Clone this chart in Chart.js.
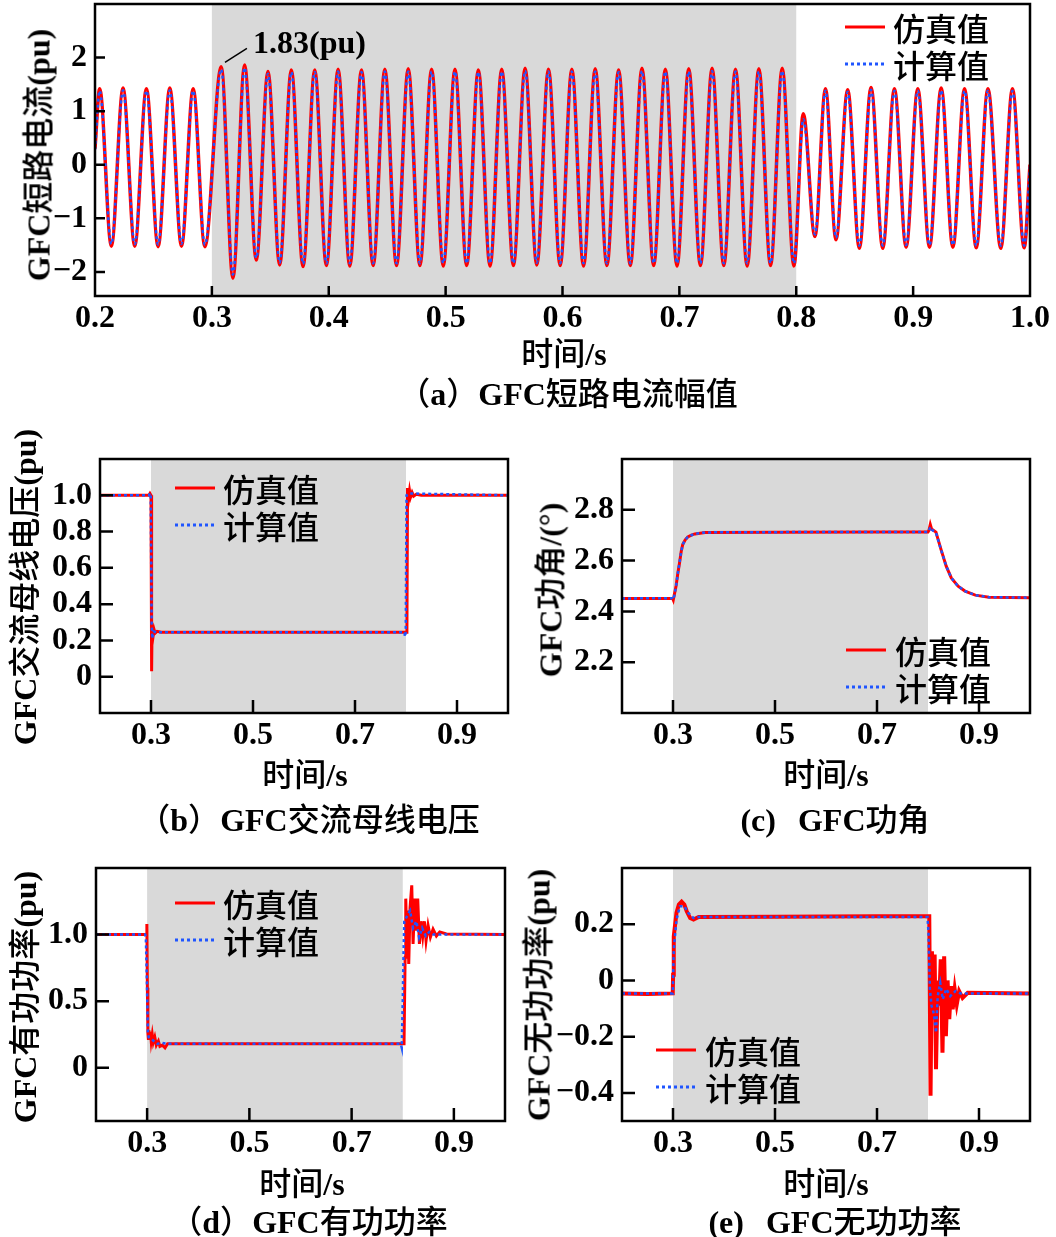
<!DOCTYPE html>
<html>
<head>
<meta charset="utf-8">
<script src="https://cdn.jsdelivr.net/npm/chart.js@4.4.0/dist/chart.umd.min.js"></script>
<style>
body { margin: 0; background: #fff; }
#page { position: relative; width: 1056px; height: 1237px; overflow: hidden; background: #fff;
        font-family: 'Liberation Serif', 'Noto Sans CJK SC', serif; color: #000; }
canvas { position: absolute; }
.t, .yt, .lg { position: absolute; font-size: 32px; line-height: 1; white-space: nowrap;
               font-family: 'Noto Sans CJK SC', sans-serif; font-weight: 500; }
.t  { transform: translate(-50%, -50%); }
.yt { transform: translate(-50%, -50%) rotate(-90deg); }
.lg { transform: translateY(-50%); }
.l  { font-family: 'Liberation Serif', serif; font-weight: 700; }
.sim  { position: absolute; width: 40px; height: 3px; background: #ff0000; transform: translateY(-50%); }
.calc { position: absolute; width: 40px; height: 3px; transform: translateY(-50%);
        background: repeating-linear-gradient(90deg, #1f55ff 0 3px, transparent 3px 6px); }
</style>
</head>
<body>
<div id="page">
  <canvas id="ca" width="1056" height="340" style="left:0;top:0"></canvas>
  <canvas id="cb" width="540" height="320" style="left:0;top:440px"></canvas>
  <canvas id="cc" width="516" height="320" style="left:540px;top:440px"></canvas>
  <canvas id="cd" width="540" height="320" style="left:0;top:850px"></canvas>
  <canvas id="ce" width="516" height="320" style="left:540px;top:850px"></canvas>

  <!-- (a) -->
  <div class="yt" style="left:37px;top:155px"><span class="l">GFC</span>短路电流<span class="l">(pu)</span></div>
  <div class="t" style="left:564px;top:352px">时间<span class="l">/s</span></div>
  <div class="t" style="left:568px;top:392px">（<span class="l">a</span>）<span class="l">GFC</span>短路电流幅值</div>
  <div class="sim" style="left:845px;top:27px"></div><div class="lg" style="left:893px;top:27px">仿真值</div>
  <div class="calc" style="left:845px;top:64px"></div><div class="lg" style="left:893px;top:64px">计算值</div>

  <!-- (b) -->
  <div class="yt" style="left:23px;top:587px"><span class="l">GFC</span>交流母线电压<span class="l">(pu)</span></div>
  <div class="t" style="left:305px;top:773px">时间<span class="l">/s</span></div>
  <div class="t" style="left:309px;top:818px">（<span class="l">b</span>）<span class="l">GFC</span>交流母线电压</div>
  <div class="sim" style="left:175px;top:488px"></div><div class="lg" style="left:223px;top:488px">仿真值</div>
  <div class="calc" style="left:175px;top:525px"></div><div class="lg" style="left:223px;top:525px">计算值</div>

  <!-- (c) -->
  <div class="yt" style="left:549px;top:590px"><span class="l">GFC</span>功角<span class="l">/(°)</span></div>
  <div class="t" style="left:826px;top:773px">时间<span class="l">/s</span></div>
  <div class="t" style="left:835px;top:818px"><span class="l">(c)</span><span style="display:inline-block;width:22px"></span><span class="l">GFC</span>功角</div>
  <div class="sim" style="left:846px;top:650px"></div><div class="lg" style="left:895px;top:650px">仿真值</div>
  <div class="calc" style="left:846px;top:687px"></div><div class="lg" style="left:895px;top:687px">计算值</div>

  <!-- (d) -->
  <div class="yt" style="left:23px;top:997px"><span class="l">GFC</span>有功功率<span class="l">(pu)</span></div>
  <div class="t" style="left:302px;top:1182px">时间<span class="l">/s</span></div>
  <div class="t" style="left:309px;top:1220px">（<span class="l">d</span>）<span class="l">GFC</span>有功功率</div>
  <div class="sim" style="left:175px;top:903px"></div><div class="lg" style="left:223px;top:903px">仿真值</div>
  <div class="calc" style="left:175px;top:940px"></div><div class="lg" style="left:223px;top:940px">计算值</div>

  <!-- (e) -->
  <div class="yt" style="left:537px;top:995px"><span class="l">GFC</span>无功功率<span class="l">(pu)</span></div>
  <div class="t" style="left:826px;top:1182px">时间<span class="l">/s</span></div>
  <div class="t" style="left:835px;top:1220px"><span class="l">(e)</span><span style="display:inline-block;width:22px"></span><span class="l">GFC</span>无功功率</div>
  <div class="sim" style="left:656px;top:1050px"></div><div class="lg" style="left:705px;top:1050px">仿真值</div>
  <div class="calc" style="left:656px;top:1087px"></div><div class="lg" style="left:705px;top:1087px">计算值</div>
</div>

<script>
// fault window (gray band)
const faultStart = 0.3;
const faultEnd = 0.8;

// ---- (a) short-circuit current: peaks / troughs
const aT = [
  0.200, 0.204, 0.214, 0.224, 0.234, 0.244, 0.254, 0.264, 0.274, 0.284, 0.294,
  0.308, 0.318, 0.328, 0.338, 0.348, 0.358, 0.368, 0.378, 0.388, 0.398,
  0.408, 0.418, 0.428, 0.438, 0.448, 0.458, 0.468, 0.478, 0.488, 0.498,
  0.508, 0.518, 0.528, 0.538, 0.548, 0.558, 0.568, 0.578, 0.588, 0.598,
  0.608, 0.618, 0.628, 0.638, 0.648, 0.658, 0.668, 0.678, 0.688, 0.698,
  0.708, 0.718, 0.728, 0.738, 0.748, 0.758, 0.768, 0.778, 0.788, 0.798,
  0.806, 0.816, 0.825, 0.834, 0.844, 0.854, 0.864, 0.874, 0.884, 0.894,
  0.904, 0.914, 0.924, 0.934, 0.944, 0.954, 0.964, 0.975, 0.985, 0.995, 1.000
];
const aSim = [
  0.30, 1.42, -1.52, 1.43, -1.52, 1.42, -1.53, 1.43, -1.52, 1.42, -1.53,
  1.83, -2.12, 1.86, -1.78, 1.74, -1.87, 1.77, -1.90, 1.77, -1.88,
  1.78, -1.89, 1.77, -1.88, 1.78, -1.88, 1.79, -1.88, 1.78, -1.89,
  1.78, -1.88, 1.77, -1.89, 1.78, -1.88, 1.80, -1.87, 1.78, -1.88,
  1.78, -1.89, 1.79, -1.88, 1.77, -1.88, 1.80, -1.88, 1.78, -1.89,
  1.79, -1.88, 1.80, -1.88, 1.78, -1.89, 1.79, -1.88, 1.80, -1.89,
  0.95, -1.34, 1.42, -1.40, 1.40, -1.56, 1.44, -1.56, 1.42, -1.54,
  1.42, -1.54, 1.43, -1.54, 1.42, -1.55, 1.42, -1.56, 1.42, -1.55, 0.00
];
const aCalc = [
  0.28, 1.38, -1.48, 1.39, -1.48, 1.38, -1.49, 1.39, -1.48, 1.38, -1.49,
  1.78, -2.05, 1.81, -1.74, 1.70, -1.83, 1.73, -1.85, 1.73, -1.84,
  1.74, -1.84, 1.73, -1.84, 1.74, -1.84, 1.74, -1.84, 1.74, -1.84,
  1.74, -1.84, 1.73, -1.84, 1.74, -1.84, 1.75, -1.83, 1.74, -1.84,
  1.74, -1.84, 1.74, -1.84, 1.73, -1.84, 1.75, -1.84, 1.74, -1.84,
  1.74, -1.84, 1.75, -1.84, 1.74, -1.84, 1.74, -1.84, 1.75, -1.84,
  0.85, -1.30, 1.38, -1.36, 1.36, -1.51, 1.40, -1.51, 1.38, -1.50,
  1.38, -1.50, 1.39, -1.50, 1.38, -1.51, 1.38, -1.51, 1.38, -1.51, -0.02
];
const aXTicks = [0.2, 0.3, 0.4, 0.5, 0.6, 0.7, 0.8, 0.9, 1.0];
const aXLabels = ['0.2', '0.3', '0.4', '0.5', '0.6', '0.7', '0.8', '0.9', '1.0'];
const aYTicks = [-2, -1, 0, 1, 2];
const aYLabels = ['\u22122', '\u22121', '0', '1', '2'];

// ---- (b) AC bus voltage
const bSimT = [0.2, 0.296, 0.298, 0.300, 0.3012, 0.302, 0.304, 0.306, 0.308, 0.312, 0.32, 0.5, 0.7,
               0.8018, 0.803, 0.805, 0.807, 0.809, 0.812, 0.815, 0.82, 0.83, 1.0];
const bSimV = [1.0, 1.0, 1.01, 1.0, 0.03, 0.25, 0.22, 0.26, 0.24, 0.25, 0.245, 0.245, 0.245,
               0.245, 1.04, 0.98, 1.025, 0.99, 1.015, 0.995, 1.005, 1.0, 1.0];
const bCalcT = [0.2, 0.296, 0.298, 0.2995, 0.3012, 0.3025, 0.305, 0.31, 0.797, 0.798, 0.7995, 0.801, 0.805, 1.0];
const bCalcV = [1.0, 1.0, 1.012, 1.0, 0.3, 0.21, 0.25, 0.245, 0.245, 0.22, 0.25, 1.0, 1.01, 1.0];
const bXTicks = [0.3, 0.5, 0.7, 0.9];
const bXLabels = ['0.3', '0.5', '0.7', '0.9'];
const bYTicks = [0, 0.2, 0.4, 0.6, 0.8, 1.0];
const bYLabels = ['0', '0.2', '0.4', '0.6', '0.8', '1.0'];

// ---- (c) power angle
const cT = [0.2, 0.299, 0.3005, 0.303, 0.306, 0.3095, 0.3127, 0.316, 0.319, 0.324, 0.329, 0.336, 0.343, 0.363,
            0.5, 0.7, 0.8, 0.802, 0.8045, 0.807, 0.8156, 0.8256, 0.8357, 0.8457, 0.859, 0.8725, 0.8927, 0.9195, 1.0];
const cSimV = [2.451, 2.452, 2.445, 2.47, 2.50, 2.55, 2.59, 2.635, 2.663, 2.682, 2.693, 2.70, 2.705, 2.711,
               2.712, 2.713, 2.713, 2.72, 2.742, 2.725, 2.712, 2.643, 2.578, 2.532, 2.499, 2.48, 2.464, 2.456, 2.454];
const cCalcV = [2.451, 2.452, 2.447, 2.465, 2.50, 2.55, 2.59, 2.635, 2.663, 2.682, 2.693, 2.70, 2.705, 2.711,
                2.712, 2.713, 2.713, 2.718, 2.732, 2.722, 2.710, 2.643, 2.578, 2.532, 2.499, 2.48, 2.464, 2.456, 2.454];
const cYTicks = [2.2, 2.4, 2.6, 2.8];
const cYLabels = ['2.2', '2.4', '2.6', '2.8'];

// ---- (d) active power
const dSimT = [0.2, 0.298, 0.2995, 0.3005, 0.3015, 0.3023, 0.3035, 0.305, 0.3065, 0.308, 0.310, 0.312, 0.315,
               0.318, 0.322, 0.325, 0.33, 0.335, 0.34, 0.35, 0.5, 0.7, 0.8025, 0.8046, 0.8059, 0.8078, 0.8098,
               0.8117, 0.8143, 0.8176, 0.8202, 0.8234, 0.8267, 0.8293, 0.8326, 0.8358, 0.8391, 0.8423, 0.8456,
               0.8495, 0.8541, 0.8593, 0.8658, 0.8723, 0.8853, 1.0];
const dSimV = [1.0, 1.0, 1.08, 0.6, 0.26, 0.22, 0.28, 0.21, 0.27, 0.20, 0.25, 0.19, 0.23,
               0.17, 0.20, 0.16, 0.17, 0.15, 0.18, 0.18, 0.18, 0.18, 0.18, 0.83, 1.27, 0.955, 1.18,
               0.78, 1.2, 1.37, 0.93, 1.27, 1.03, 1.27, 0.93, 1.1, 0.99, 1.1, 0.955,
               1.07, 0.98, 1.04, 0.99, 1.02, 1.005, 1.0];
const dCalcT = [0.2, 0.296, 0.2975, 0.2995, 0.3015, 0.303, 0.306, 0.31, 0.315, 0.32, 0.33, 0.34, 0.5, 0.796,
                0.798, 0.800, 0.8015, 0.803, 0.806, 0.8098, 0.8143, 0.8202, 0.8267, 0.832, 0.838, 0.845, 0.852,
                0.86, 0.87, 1.0];
const dCalcV = [1.0, 1.0, 0.98, 0.66, 0.26, 0.23, 0.22, 0.21, 0.195, 0.18, 0.185, 0.18, 0.18, 0.18,
                0.15, 0.5, 0.85, 1.1, 1.12, 1.15, 1.18, 1.05, 1.1, 0.98, 1.05, 0.99, 1.02,
                1.0, 1.0, 1.0];
const dYTicks = [0, 0.5, 1.0];
const dYLabels = ['0', '0.5', '1.0'];

// ---- (e) reactive power
const eSimT = [0.2, 0.25, 0.2995, 0.3002, 0.3015, 0.3068, 0.3115, 0.3169, 0.3222, 0.3269, 0.3336, 0.3402, 0.3503,
               0.5, 0.7, 0.8025, 0.805, 0.8077, 0.8103, 0.813, 0.8157, 0.819, 0.8217, 0.825, 0.8284, 0.8317,
               0.8351, 0.8384, 0.8417, 0.8451, 0.8484, 0.8524, 0.8564, 0.8611, 0.8678, 0.8778, 1.0];
const eSimV = [-0.046, -0.048, -0.046, 0.02, 0.157, 0.24, 0.27, 0.28, 0.27, 0.246, 0.222, 0.217, 0.226,
               0.227, 0.228, 0.228, -0.41, 0.104, -0.138, 0.092, -0.316, 0.0, -0.09, 0.075, -0.257, 0.086,
               -0.198, 0.0, -0.138, -0.02, -0.103, -0.032, -0.085, -0.038, -0.062, -0.044, -0.046];
const eCalcT = [0.2, 0.2995, 0.3015, 0.3068, 0.3135, 0.3222, 0.330, 0.3402, 0.3503, 0.5, 0.799, 0.801, 0.8037,
                0.807, 0.8117, 0.8157, 0.819, 0.824, 0.829, 0.8357, 0.8437, 0.8537, 0.8637, 1.0];
const eCalcV = [-0.046, -0.046, 0.11, 0.215, 0.264, 0.264, 0.24, 0.222, 0.226, 0.226, 0.226, 0.17, -0.03,
                -0.09, -0.12, -0.186, -0.056, -0.008, -0.067, -0.03, -0.056, -0.038, -0.046, -0.046];
const eYTicks = [-0.4, -0.2, 0, 0.2];
const eYLabels = ['\u22120.4', '\u22120.2', '0', '0.2'];

const RED = '#ff0000';
const BLUE = '#1f55ff';
const FONT = "'Liberation Serif', serif";

function pts(ts, vs) {
    return ts.map((t, i) => ({ x: t, y: vs[i] }));
}

// gray fault band, box frame and inward ticks
const frameTicks = {
    id: 'frameTicks',
    beforeDatasetsDraw(chart) {
        const { ctx, chartArea: a, scales: { x } } = chart;
        const x0 = x.getPixelForValue(faultStart);
        const x1 = x.getPixelForValue(faultEnd);
        ctx.save();
        ctx.fillStyle = '#d9d9d9';
        ctx.fillRect(x0, a.top, x1 - x0, a.bottom - a.top);
        ctx.restore();
    },
    afterDatasetsDraw(chart, args, opts) {
        const { ctx, chartArea: a, scales: { x, y } } = chart;
        ctx.save();
        ctx.strokeStyle = '#000';
        ctx.lineWidth = 2.5;
        ctx.beginPath();
        x.ticks.forEach(t => {
            const px = x.getPixelForValue(t.value);
            if (px > a.left + 3 && px < a.right - 3) {
                ctx.moveTo(px, a.bottom);
                ctx.lineTo(px, a.bottom - opts.len);
            }
        });
        y.ticks.forEach(t => {
            const py = y.getPixelForValue(t.value);
            ctx.moveTo(a.left, py);
            ctx.lineTo(a.left + opts.len, py);
        });
        ctx.stroke();
        ctx.strokeRect(a.left, a.top, a.right - a.left, a.bottom - a.top);
        ctx.restore();
    }
};

// "1.83(pu)" note in panel (a)
const peakNote = {
    id: 'peakNote',
    afterDatasetsDraw(chart) {
        const { ctx, scales: { x, y } } = chart;
        ctx.save();
        ctx.strokeStyle = '#000';
        ctx.lineWidth = 1.5;
        ctx.beginPath();
        ctx.moveTo(x.getPixelForValue(0.3112), y.getPixelForValue(1.91));
        ctx.lineTo(x.getPixelForValue(0.330), y.getPixelForValue(2.17));
        ctx.stroke();
        ctx.fillStyle = '#000';
        ctx.font = 'bold 32px ' + FONT;
        ctx.textBaseline = 'middle';
        ctx.fillText('1.83(pu)', x.getPixelForValue(0.3352), y.getPixelForValue(2.24));
        ctx.restore();
    }
};

function panel(id, o) {
    const tickFont = { family: FONT, size: 32, weight: 'bold' };
    return new Chart(document.getElementById(id), {
        type: 'line',
        data: {
            datasets: [
                {
                    data: pts(o.calcT, o.calcV),
                    borderColor: BLUE, borderWidth: 2.5, borderDash: [3, 3],
                    pointRadius: 0, tension: 0,
                    cubicInterpolationMode: o.smooth ? 'monotone' : 'default'
                },
                {
                    data: pts(o.simT, o.simV),
                    borderColor: RED, borderWidth: o.redW || 3,
                    pointRadius: 0, tension: 0,
                    cubicInterpolationMode: o.smooth ? 'monotone' : 'default'
                }
            ]
        },
        options: {
            responsive: false,
            animation: false,
            devicePixelRatio: 1,
            layout: { padding: o.pad },
            plugins: {
                legend: { display: false },
                tooltip: { enabled: false },
                frameTicks: { len: o.tick }
            },
            scales: {
                x: {
                    type: 'linear', min: 0.2, max: 1.0,
                    grid: { display: false, drawTicks: false },
                    border: { display: false },
                    afterBuildTicks: s => { s.ticks = o.xTicks.map(v => ({ value: v })); },
                    afterFit: s => { s.height = o.xH; s.paddingLeft = 0; s.paddingRight = 0; },
                    ticks: {
                        font: tickFont, color: '#000', padding: 4,
                        maxRotation: 0, autoSkip: false,
                        callback: (v, i) => o.xLabels[i]
                    }
                },
                y: {
                    type: 'linear', min: o.yMin, max: o.yMax,
                    grid: { display: false, drawTicks: false },
                    border: { display: false },
                    afterBuildTicks: s => { s.ticks = o.yTicks.map(v => ({ value: v })); },
                    afterFit: s => { s.width = o.yW; s.paddingTop = 0; s.paddingBottom = 0; },
                    ticks: {
                        font: tickFont, color: '#000', padding: 8,
                        autoSkip: false,
                        callback: (v, i) => o.yLabels[i]
                    }
                }
            }
        },
        plugins: [frameTicks].concat(o.extra || [])
    });
}

panel('ca', {
    simT: aT, simV: aSim, calcT: aT, calcV: aCalc, smooth: true, redW: 3.5,
    xTicks: aXTicks, xLabels: aXLabels, yTicks: aYTicks, yLabels: aYLabels,
    yMin: -2.45, yMax: 3.0, pad: { top: 4, right: 26, left: 0, bottom: 0 },
    yW: 95, xH: 44, tick: 10, extra: [peakNote]
});
panel('cb', {
    simT: bSimT, simV: bSimV, calcT: bCalcT, calcV: bCalcV,
    xTicks: bXTicks, xLabels: bXLabels, yTicks: bYTicks, yLabels: bYLabels,
    yMin: -0.2, yMax: 1.2, pad: { top: 19, right: 32, left: 0, bottom: 0 },
    yW: 100, xH: 47, tick: 13
});
panel('cc', {
    simT: cT, simV: cSimV, calcT: cT, calcV: cCalcV,
    xTicks: bXTicks, xLabels: bXLabels, yTicks: cYTicks, yLabels: cYLabels,
    yMin: 2.0, yMax: 3.0, pad: { top: 19, right: 26, left: 0, bottom: 0 },
    yW: 82, xH: 47, tick: 13
});
panel('cd', {
    simT: dSimT, simV: dSimV, calcT: dCalcT, calcV: dCalcV,
    xTicks: bXTicks, xLabels: bXLabels, yTicks: dYTicks, yLabels: dYLabels,
    yMin: -0.4, yMax: 1.5, pad: { top: 18, right: 35, left: 0, bottom: 0 },
    yW: 96, xH: 49, tick: 13
});
panel('ce', {
    simT: eSimT, simV: eSimV, calcT: eCalcT, calcV: eCalcV, redW: 4,
    xTicks: bXTicks, xLabels: bXLabels, yTicks: eYTicks, yLabels: eYLabels,
    yMin: -0.5, yMax: 0.4, pad: { top: 18, right: 26, left: 0, bottom: 0 },
    yW: 82, xH: 49, tick: 13
});
</script>
</body>
</html>
